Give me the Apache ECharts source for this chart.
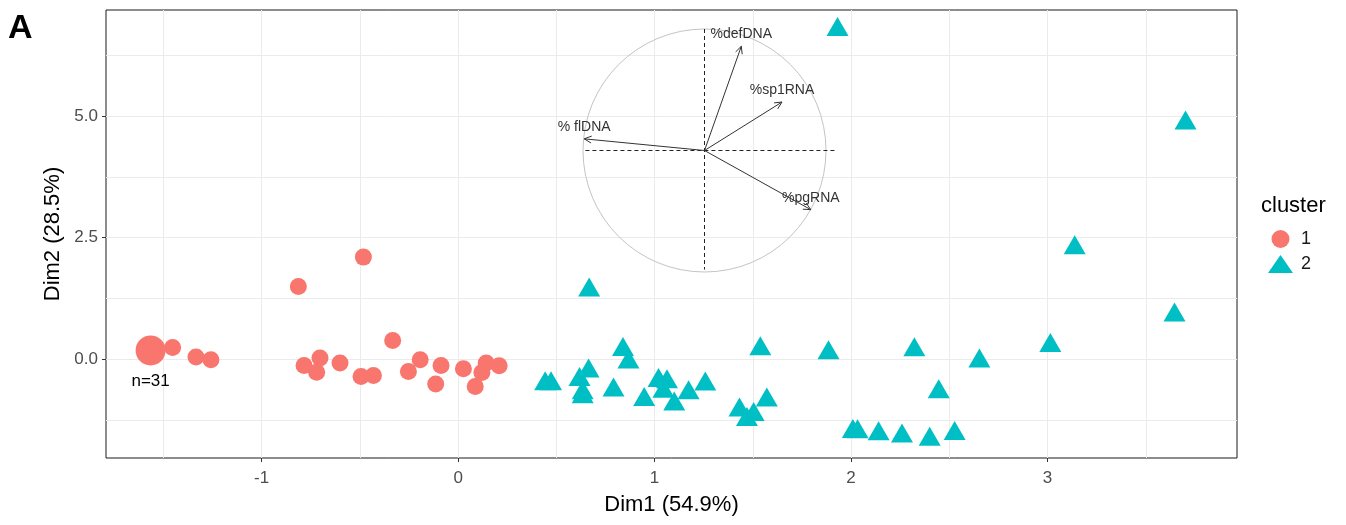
<!DOCTYPE html>
<html><head><meta charset="utf-8">
<script src="https://cdn.jsdelivr.net/npm/echarts@6/dist/echarts.min.js"></script>
<style>html,body{margin:0;padding:0;background:#fff}#c{width:1346px;height:525px}</style>
</head><body><div id="c"></div>
<script>
// ---- data ----
const clusterNames = ['1', '2'];
const c1x = [-1.565, -1.453, -1.334, -1.258, -0.813, -0.482, -0.784, -0.703, -0.720, -0.601, -0.494, -0.431, -0.333, -0.253, -0.193, -0.087, -0.114, 0.027, 0.143, 0.121, 0.087, 0.209];
const c1y = [0.177, 0.239, 0.041, -0.014, 1.492, 2.097, -0.130, 0.020, -0.270, -0.083, -0.357, -0.336, 0.383, -0.254, -0.014, -0.131, -0.515, -0.200, -0.082, -0.275, -0.563, -0.138];
const c1n = [31, 1, 1, 1, 1, 1, 1, 1, 1, 1, 1, 1, 1, 1, 1, 1, 1, 1, 1, 1, 1, 1];
const c2x = [1.931, 3.702, 3.138, 3.646, 3.014, 0.667, 0.839, 0.867, 1.538, 1.885, 2.322, 2.653, 2.446, 2.527, 2.400, 2.259, 2.140, 2.009, 2.033, 1.571, 1.432, 1.504, 1.470, 1.258, 1.173, 1.100, 1.020, 1.063, 1.045, 0.947, 0.791, 0.664, 0.618, 0.634, 0.634, 0.443, 0.473];
const c2y = [6.840, 4.919, 2.349, 0.966, 0.342, 1.480, 0.259, 0.000, 0.273, 0.190, 0.253, 0.020, -0.610, -1.467, -1.590, -1.521, -1.474, -1.426, -1.433, -0.781, -0.987, -1.077, -1.180, -0.453, -0.631, -0.864, -0.378, -0.405, -0.600, -0.768, -0.576, -0.185, -0.357, -0.631, -0.713, -0.446, -0.446];
const xTicks = [-1, 0, 1, 2, 3];
const yTicks = [0, 2.5, 5];
const xGridLines = [-1.5, -1, -0.5, 0, 0.5, 1, 1.5, 2, 2.5, 3, 3.5];
const yGridLines = [-1.25, 0, 1.25, 2.5, 3.75, 5, 6.25];
const varNames = ['%defDNA', '%sp1RNA', '% flDNA', '%pgRNA'];
const varX = [0.303, 0.638, -0.990, 0.875];
const varY = [0.858, 0.399, 0.096, -0.487];

// ---- chart ----
const FONT = '"Liberation Sans", Arial, sans-serif';
const chart = echarts.init(document.getElementById('c'), null, {renderer: 'canvas'});

const c1data = c1x.map((x, i) => {
  const n = c1n[i];
  const item = {value: [x, c1y[i], n], symbolSize: n > 1 ? 30 : 17};
  if (n > 1) {
    item.label = {show: true, position: 'bottom', distance: 7, formatter: 'n=' + n,
      color: '#000', fontSize: 17, fontFamily: FONT};
  }
  return item;
});
const c2data = c2x.map((x, i) => [x, c2y[i]]);
const varData = varX.map((x, i) => [x, varY[i], varNames[i]]);
const gridMarks = xGridLines.map(v => ({xAxis: v})).concat(yGridLines.map(v => ({yAxis: v})));

const option = {
  animation: false,
  backgroundColor: '#fff',
  textStyle: {fontFamily: FONT},
  graphic: [
    {type: 'text', left: 8, top: 12, style: {text: 'A', fontSize: 34, fontWeight: 'bold', fontFamily: FONT, fill: '#000'}},
    {type: 'text', left: 1261, top: 195, style: {text: 'cluster', fontSize: 22, fontFamily: FONT, fill: '#000'}}
  ],
  legend: {
    orient: 'vertical', left: 1263, top: 225, itemWidth: 25, itemHeight: 18, itemGap: 7,
    selectedMode: false,
    textStyle: {fontSize: 18, color: '#1a1a1a', fontFamily: FONT, padding: [0, 0, 0, 3]},
    data: [{name: clusterNames[0], icon: 'circle'}, {name: clusterNames[1], icon: 'triangle'}]
  },
  grid: [
    {left: 106, top: 10, right: 109, bottom: 67, show: true, borderColor: '#1a1a1a', borderWidth: 1, backgroundColor: 'transparent', z: 0},
    {left: 583, top: 29, width: 243, height: 243, show: false}
  ],
  xAxis: [
    {type: 'value', gridIndex: 0, min: -1.792, max: 3.964,
      name: 'Dim1 (54.9%)', nameLocation: 'middle', nameGap: 36,
      nameTextStyle: {fontSize: 22, color: '#000', fontFamily: FONT},
      axisLine: {show: false, onZero: false},
      axisTick: {show: true, length: 4, lineStyle: {color: '#333'}, customValues: xTicks},
      axisLabel: {show: true, customValues: xTicks, margin: 12, fontSize: 17, color: '#4d4d4d', fontFamily: FONT,
        formatter: v => String(v)},
      splitLine: {show: false}},
    {type: 'value', gridIndex: 1, min: -1, max: 1, show: false}
  ],
  yAxis: [
    {type: 'value', gridIndex: 0, min: -2.035, max: 7.18,
      name: 'Dim2 (28.5%)', nameLocation: 'middle', nameGap: 33,
      nameTextStyle: {fontSize: 22, color: '#000', fontFamily: FONT},
      axisLine: {show: false, onZero: false},
      axisTick: {show: true, length: 4, lineStyle: {color: '#333'}, customValues: yTicks},
      axisLabel: {show: true, customValues: yTicks, margin: 8, fontSize: 17, color: '#4d4d4d', fontFamily: FONT,
        formatter: v => v.toFixed(1)},
      splitLine: {show: false}},
    {type: 'value', gridIndex: 1, min: -1, max: 1, show: false}
  ],
  series: [
    {type: 'line', xAxisIndex: 0, yAxisIndex: 0, data: [], z: 1, silent: true,
      markLine: {z: 1, silent: true, symbol: 'none', animation: false, label: {show: false},
        lineStyle: {color: '#ebebeb', width: 1, type: 'solid'}, emphasis: {disabled: true}, data: gridMarks}},
    {name: clusterNames[0], type: 'scatter', xAxisIndex: 0, yAxisIndex: 0, symbol: 'circle',
      itemStyle: {color: '#F8766D', opacity: 1}, data: c1data, z: 3},
    {name: clusterNames[1], type: 'scatter', xAxisIndex: 0, yAxisIndex: 0, symbol: 'triangle', symbolSize: [22, 19],
      itemStyle: {color: '#00BFC4', opacity: 1}, data: c2data, z: 3},
    {type: 'custom', xAxisIndex: 1, yAxisIndex: 1, clip: false, silent: true, z: 4,
      data: [[0, 0]],
      renderItem: (params, api) => {
        const c = api.coord([0, 0]);
        const r = api.coord([1, 0])[0] - c[0];
        const h0 = api.coord([-0.98, 0]), h1 = api.coord([1.07, 0]);
        const v0 = api.coord([0, 1.0]), v1 = api.coord([0, -0.98]);
        return {type: 'group', children: [
          {type: 'circle', shape: {cx: c[0], cy: c[1], r: r}, style: {fill: 'none', stroke: '#c4c4c4', lineWidth: 1}},
          {type: 'line', shape: {x1: h0[0], y1: h0[1], x2: h1[0], y2: h1[1]}, style: {stroke: '#222', lineWidth: 1, lineDash: [4, 3]}},
          {type: 'line', shape: {x1: v0[0], y1: v0[1], x2: v1[0], y2: v1[1]}, style: {stroke: '#222', lineWidth: 1, lineDash: [4, 3]}}
        ]};
      }},
    {type: 'custom', xAxisIndex: 1, yAxisIndex: 1, clip: false, silent: true, z: 5,
      data: varData,
      renderItem: (params, api) => {
        const o = api.coord([0, 0]);
        const t = api.coord([api.value(0), api.value(1)]);
        const name = varData[params.dataIndex][2];
        const ang = Math.atan2(t[1] - o[1], t[0] - o[0]);
        const L = 8, a = Math.PI / 7;
        const p1 = [t[0] - L * Math.cos(ang - a), t[1] - L * Math.sin(ang - a)];
        const p2 = [t[0] - L * Math.cos(ang + a), t[1] - L * Math.sin(ang + a)];
        return {type: 'group', children: [
          {type: 'line', shape: {x1: o[0], y1: o[1], x2: t[0], y2: t[1]}, style: {stroke: '#333', lineWidth: 1}},
          {type: 'polyline', shape: {points: [p1, t, p2]}, style: {stroke: '#333', fill: 'none', lineWidth: 1}},
          {type: 'text', x: t[0], y: t[1] - 5, style: {text: name, align: 'center', verticalAlign: 'bottom',
            fontSize: 14, fontFamily: FONT, fill: '#333'}}
        ]};
      }}
  ]
};
chart.setOption(option);
</script>
</body></html>
